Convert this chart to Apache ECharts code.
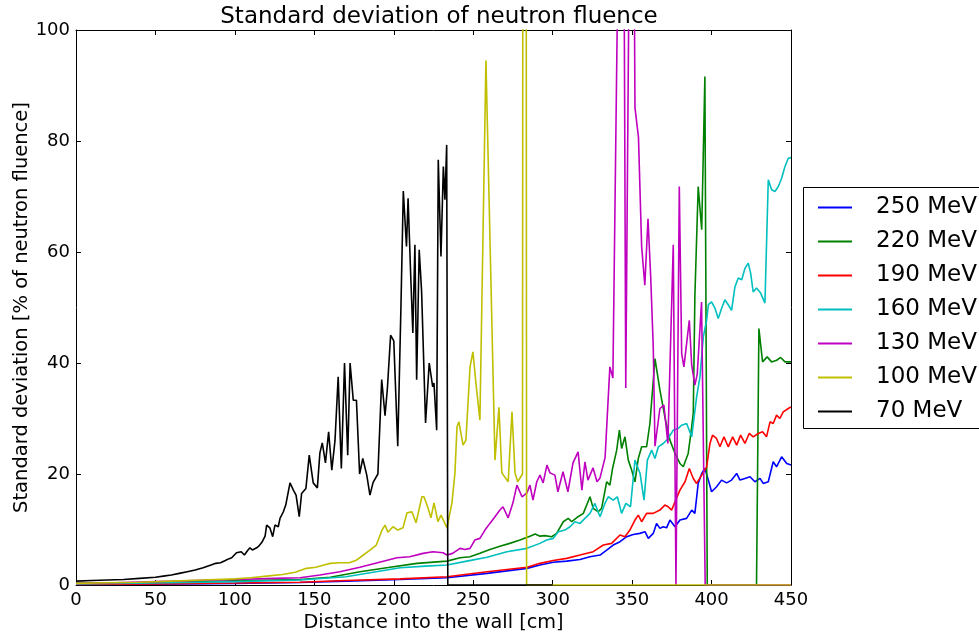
<!DOCTYPE html>
<html>
<head>
<meta charset="utf-8">
<script src="https://cdn.jsdelivr.net/npm/echarts@6/dist/echarts.min.js"></script>
<style>
  html, body { margin: 0; padding: 0; background: #fff; }
  #chart { width: 979px; height: 638px; }
</style>
</head>
<body>
<div id="chart"></div>
<script>
// Standard deviation (% of neutron fluence) versus depth into the wall (cm), one curve per beam energy.
const seriesNames = ['250 MeV', '220 MeV', '190 MeV', '160 MeV', '130 MeV', '100 MeV', '70 MeV'];
const seriesColors = ['#0000ff', '#008000', '#ff0000', '#00bfbf', '#bf00bf', '#bfbf00', '#000000'];

const mev250 = [[0,0.1],[50,0.15],[100,0.3],[141,0.45],[170,0.7],[204,1.0],[233.5,1.3],[258.7,2.1],[283.8,3.0],[292,3.6],[300.4,4.1],[308.8,4.3],[317.2,4.6],[323.5,5.1],[329.8,5.4],[334,6.3],[338.1,7.2],[342.4,7.8],[346.6,8.7],[350.7,9.1],[354.9,9.3],[358.1,9.6],[360.2,8.4],[363.3,9.3],[365.4,11.1],[367.5,10.2],[369.6,10.5],[371.7,10.3],[373.8,11.7],[377,10.5],[380.1,11.7],[384.3,12],[387.5,13.5],[389.5,12.9],[391.6,18.3],[393.8,20.1],[395.8,21],[398,18.9],[400,16.8],[403.2,17.7],[406.3,18.9],[409.5,18.4],[412.6,18.9],[415.8,20.1],[417.9,18.9],[421,19.2],[424.2,19.5],[427.3,18.6],[430.5,19.2],[432.5,18.3],[435.7,18.6],[438.8,22.2],[440.9,21.3],[444.1,23.1],[447.3,21.9],[450,21.6]];

const mev220 = [[0,0.3],[50,0.45],[100,0.75],[141,1.0],[160,1.4],[178.7,2.4],[197.6,3.2],[214.6,3.9],[233.5,4.3],[241.7,4.9],[248,5.1],[254.2,5.7],[260.5,6.4],[266.8,7.0],[273,7.5],[279.4,8.1],[285.7,8.8],[289,9.2],[292,8.8],[295,8.9],[299.4,8.7],[302.5,9.3],[306.7,11.4],[309.8,12],[312,11.4],[316,12.3],[319.3,12.9],[323.5,15.9],[325.5,13.8],[328.7,13.2],[330.8,13.8],[334,18.6],[336,18],[337.7,21],[340.3,24.3],[342,27.9],[343.4,24.6],[345.5,26.7],[347.6,22.5],[349.7,20.7],[351.8,18.6],[353.9,22.8],[356,24.9],[359.1,24.9],[361.2,29.1],[364.4,40.8],[367.5,35.1],[370.6,30.3],[373.8,26.1],[377,23.7],[380.1,21.9],[382.2,21.3],[385.3,23.7],[387.5,28.5],[388.5,31],[389.5,52],[391.6,71.8],[393.8,64],[395.8,91.6],[397.3,0],[428.3,0],[429.8,46.2],[432.1,40.2],[435,41.1],[437.8,40.2],[441,40.5],[443.5,41],[446.2,40.2],[450,40.2]];

const mev190 = [[0,0.1],[50,0.2],[100,0.35],[141,0.5],[170,0.8],[204,1.1],[233.5,1.5],[258.7,2.4],[283.8,3.2],[292,3.9],[300.4,4.4],[308.8,4.8],[317.2,5.4],[325.5,6.0],[331.9,7.2],[337.1,7.5],[342.4,9.0],[345.5,8.7],[348.6,9.9],[351.8,11.7],[353.9,12.6],[356,11.4],[359.1,12.9],[363.3,12.9],[367.5,13.5],[370.6,14.4],[372.7,14.1],[374.9,13.5],[377,15],[380.1,17.1],[383.3,18.6],[386,21],[388.5,19.2],[390.6,18.3],[393.8,19.8],[396.9,21.3],[399,25.5],[400.6,27],[403.1,26.4],[405.3,24.9],[407.8,26.7],[410.5,24.9],[413.3,26.7],[415.8,25.2],[418.3,27],[421,25.5],[423.7,27.3],[426.2,26.7],[429.4,27.3],[432.1,27.6],[434.6,26.7],[436.8,29.4],[438.8,29.1],[440.9,30.6],[443,30],[445.1,31.2],[448.3,31.8],[450,32.1]];

const mev160 = [[0,0.2],[50,0.35],[100,0.6],[141,0.9],[170,1.5],[204,3.1],[220,3.4],[233.5,3.6],[246,4.3],[258.7,5.0],[271.2,6.0],[283.8,6.6],[292,7.5],[296.2,8.1],[300.4,8.4],[303.5,9.6],[307.7,9.9],[310.9,10.5],[314,11.4],[317.2,11.1],[320.3,12],[323.5,12.9],[326.6,14.7],[329.8,12.3],[332.9,14.7],[335,15.9],[338.1,15.3],[340.7,15.9],[343.4,12.9],[346.1,14.7],[349,14.1],[351.8,22.5],[355,20.1],[357.5,15.3],[359.6,22.5],[362.3,24.3],[364.4,22.8],[366.5,24.9],[369.6,25.5],[372.7,26.4],[375.9,27.9],[379,28.2],[381.2,28.8],[384.3,29.1],[387.5,26.7],[390.6,33.9],[392.7,37.5],[394.8,44.7],[396.9,47.7],[398,50.5],[400,51],[402.1,49.9],[404.2,48],[406.4,49.9],[408.4,51.4],[410.5,50.5],[412.6,49.5],[414.7,53.7],[416.8,55.3],[419,55],[421.1,57.1],[423.1,58],[424.6,56.2],[426.2,52.8],[428.3,53.5],[430.9,52.6],[433.6,50.8],[435.7,73],[437.8,71.2],[439.9,70.9],[442,71.8],[444.1,73.3],[446.2,75.4],[448.3,76.9],[450,77]];

const mev130 = [[0,0.3],[25,0.4],[50,0.6],[75,0.8],[100,1.0],[125,1.2],[141,1.3],[153.5,1.8],[166,2.4],[178.7,3.2],[191,4.1],[202,4.9],[210,5.1],[218.4,5.7],[224.7,6.0],[231,5.8],[233.5,5.4],[237,5.7],[241.7,6.6],[244.8,6.4],[248,6.6],[251,8.1],[254.2,8.4],[257.4,9.9],[260.5,11.1],[263.7,12.3],[266.8,13.5],[268.7,14.1],[272,12.1],[275,14.8],[277.5,18],[280.7,15.9],[283.8,16.6],[285.7,18],[287.6,15.3],[290,18.6],[292,19.8],[294,18.4],[296.4,21.6],[298.3,20.2],[301.4,19.8],[303.3,16.8],[306.5,20.4],[309.6,16.8],[312.8,22],[316,24],[318.4,17.1],[320.3,22.2],[322.2,18.9],[325.4,21.1],[327.9,18.6],[329.8,19.3],[333,23],[336,39.3],[337.9,37.3],[344,180],[346,35.5],[350,180],[351.8,86],[354,80.7],[356,61],[358,54],[360,66],[361.7,55.5],[363.3,43],[364.4,25],[367.5,31.8],[370,32.4],[372.5,25.5],[375.9,61.3],[377.6,0],[379.7,71.8],[381.2,41.7],[382.6,39.3],[386,47.7],[387.5,39.6],[389.5,36],[391,38],[393.7,51],[396,0],[450,0]];

const mev100 = [[0,0.3],[20,0.4],[40,0.5],[60,0.7],[80,0.9],[100,1.1],[110,1.3],[120,1.6],[130,1.9],[138,2.3],[145,3.0],[151,3.2],[156,3.6],[160,3.9],[166,4.0],[172,4.0],[176,4.4],[179,5.0],[185,6.3],[189,7.2],[192.6,9.9],[194.5,10.8],[196.3,9.5],[199.5,10.5],[202.6,9.9],[205.8,10.3],[208.3,13],[211.4,13.2],[214,11.2],[217.7,15.9],[219,15.9],[221.5,13.9],[223.4,12.1],[225.3,14.8],[227.8,11.4],[229.7,12.6],[233.5,10.3],[236.6,14.8],[238.5,20.2],[239.8,28.5],[241,29.4],[243.6,25.2],[245.4,26.1],[248,39.3],[249.8,42],[251.7,36.4],[254.2,29.7],[258,94.5],[263.7,22.5],[266.2,32],[268,20.2],[272,18.6],[274.4,31.2],[276.3,20.2],[278,18.6],[281,20],[282.3,600],[283.6,0],[450,0]];

const mev70 = [[0,0.7],[10,0.8],[20,0.9],[30,1.0],[40,1.2],[50,1.4],[55,1.6],[60,1.8],[65,2.1],[70,2.4],[75,2.7],[80,3.1],[85,3.6],[88,3.9],[91,4.0],[94,4.4],[96,4.7],[98,4.9],[101,5.8],[104,6.0],[106,5.4],[108,6.2],[109.5,6.7],[111,6.3],[113.7,6.7],[115,7.0],[117,7.7],[119,8.8],[120,10.8],[122,10.3],[123.8,8.7],[125.2,10.8],[127.3,10.5],[128.4,12],[130.5,13.2],[132,14.4],[134.7,18.4],[136.8,17.1],[138.5,16.2],[140.5,12.3],[142,16.5],[144.7,17.4],[146.8,23.4],[149.3,18.4],[151.9,17.5],[153.5,23.8],[155,25.6],[157,22],[159,27.6],[161,20.7],[163,26],[165,37.5],[167,21],[169,40],[171,23.4],[172.5,40],[174.5,33.3],[176.5,33.3],[178.5,20],[180.5,22.8],[183,19.8],[185,16.2],[187,18.5],[190,20],[192.4,37],[194.5,30.5],[196,35.5],[198,45],[200,44],[202.5,25],[204.5,50],[206,71],[208,61],[209,69.7],[210.6,56.2],[212,45.4],[213.3,61.3],[214.4,37],[216,60.4],[217.5,53],[220,29.2],[222.3,40],[224.5,35.7],[225.3,36.4],[227,27.9],[228,76.6],[229.7,59.2],[231.2,75.4],[232.2,69.4],[233.3,79.3],[234,0],[300,0]];

const seriesData = [mev250, mev220, mev190, mev160, mev130, mev100, mev70];

const FONT = 'DejaVu Sans';
const chart = echarts.init(document.getElementById('chart'), null, { renderer: 'canvas' });

const frameAxis = {
  axisLine: { show: true, onZero: false, lineStyle: { color: '#000', width: 1 } },
  axisTick: { show: true, inside: true, length: 5, lineStyle: { color: '#000' } },
  splitLine: { show: false }
};

chart.setOption({
  animation: false,
  backgroundColor: '#fff',
  title: {
    text: 'Standard deviation of neutron fluence',
    left: 434, top: 1, textAlign: 'center',
    textStyle: { fontFamily: FONT, fontSize: 23, fontWeight: 'normal', color: '#000' }
  },
  grid: { left: 76, right: 188, top: 30, bottom: 53, containLabel: false, outerBoundsMode: 'none' },
  // legend frame runs off the right edge of the canvas
  graphic: [{
    type: 'rect', z: 1,
    shape: { x: 803.5, y: 187.5, width: 240, height: 241 },
    style: { fill: '#fff', stroke: '#000', lineWidth: 1 }
  }],
  legend: {
    orient: 'vertical', left: 803, top: 188,
    padding: [8, 0, 9, 15],
    itemWidth: 34, itemHeight: 2, itemGap: 11, icon: 'rect',
    borderWidth: 0, z: 10,
    textStyle: { fontFamily: FONT, fontSize: 23, color: '#000', lineHeight: 22, padding: [0, 0, 0, 19] },
    data: seriesNames
  },
  xAxis: [
    Object.assign({
      type: 'value', min: 0, max: 450, interval: 50, position: 'bottom',
      name: 'Distance into the wall [cm]', nameLocation: 'middle', nameGap: 28,
      nameMoveOverlap: false,
      nameTextStyle: { fontFamily: FONT, fontSize: 19.3, color: '#000' },
      axisLabel: { fontFamily: FONT, fontSize: 18, color: '#000', margin: 6 }
    }, frameAxis),
    Object.assign({
      type: 'value', min: 0, max: 450, interval: 50, position: 'top',
      axisLabel: { show: false }
    }, frameAxis)
  ],
  yAxis: [
    Object.assign({
      type: 'value', min: 0, max: 100, interval: 20, position: 'left',
      name: 'Standard deviation [% of neutron fluence]', nameLocation: 'middle', nameGap: 44,
      nameMoveOverlap: false,
      nameTextStyle: { fontFamily: FONT, fontSize: 19.5, color: '#000' },
      axisLabel: { fontFamily: FONT, fontSize: 18, color: '#000', margin: 6 }
    }, frameAxis),
    Object.assign({
      type: 'value', min: 0, max: 100, interval: 20, position: 'right',
      axisLabel: { show: false }
    }, frameAxis)
  ],
  series: seriesNames.map((name, i) => ({
    name: name,
    type: 'line',
    xAxisIndex: 0, yAxisIndex: 0,
    data: seriesData[i],
    symbol: 'none',
    clip: true,
    lineStyle: { color: seriesColors[i], width: 1.6 },
    itemStyle: { color: seriesColors[i] },
    z: 2 + i
  }))
});
</script>
</body>
</html>
